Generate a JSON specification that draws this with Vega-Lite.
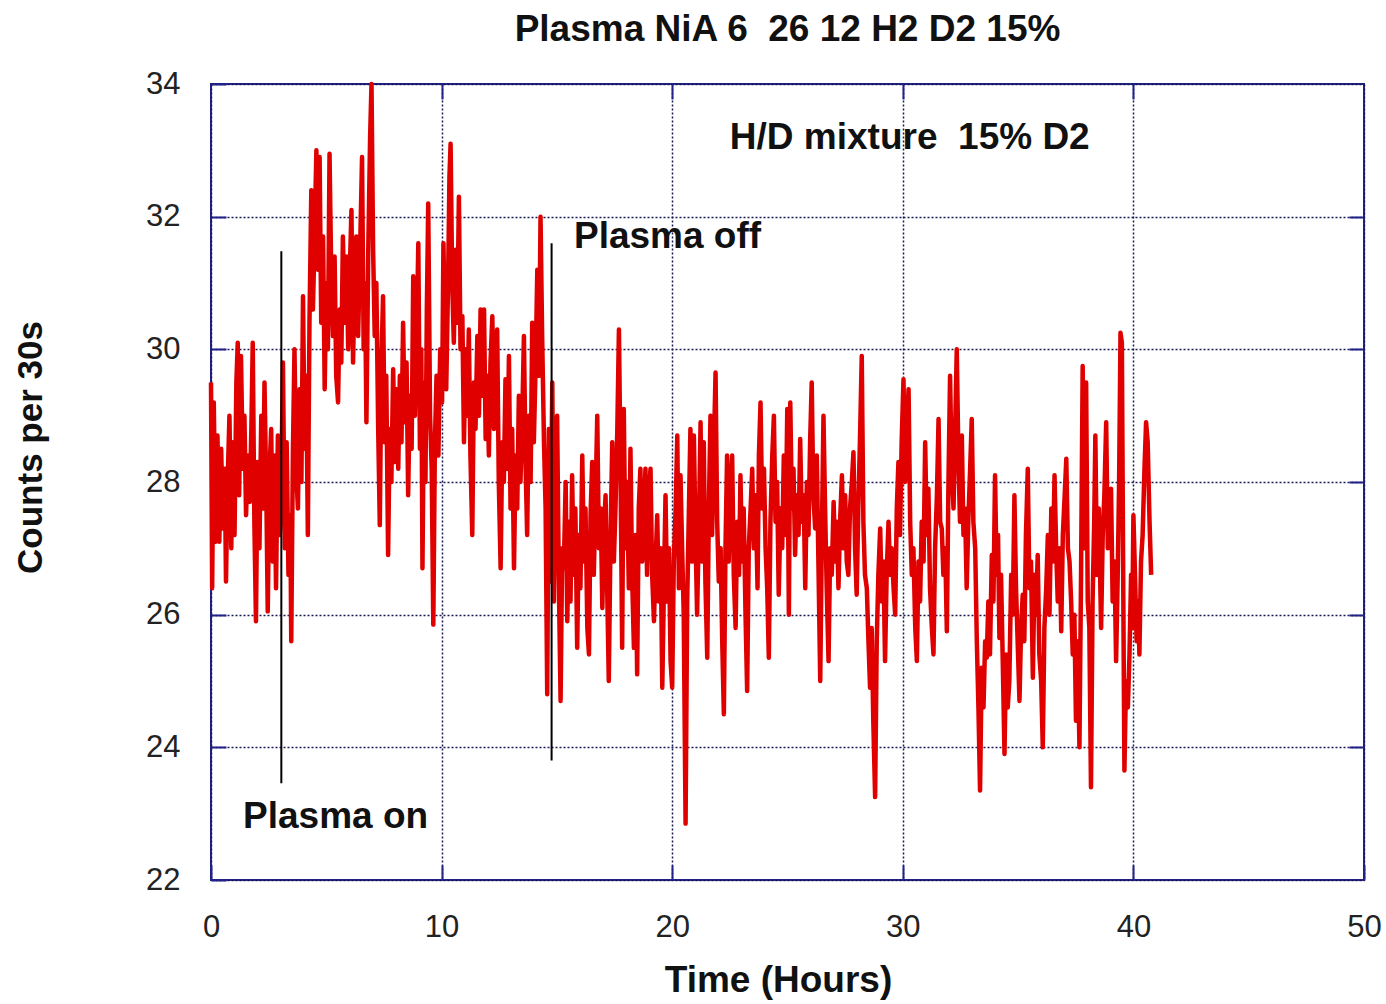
{
"$schema": "https://vega.github.io/schema/vega-lite/v6.json",
"width": 1153, "height": 796,
"autosize": {"type": "none"},
"padding": {"left": 211, "top": 84, "right": 22, "bottom": 124},
"background": "white",
"title": {"text": "Plasma NiA 6 \u00a026 12 H2 D2 15%", "font": "Liberation Sans", "fontWeight": "bold", "fontSize": 37, "color": "#111111", "anchor": "middle", "offset": 19},
"config": {
  "view": {"stroke": "#22228a", "strokeWidth": 2},
  "axis": {"labelFont": "Liberation Sans", "labelFontSize": 31, "labelColor": "#222222", "labelFlush": false, "labelOverlap": false, "titleFont": "Liberation Sans", "titleFontWeight": "bold", "titleColor": "#111111", "gridColor": "#1a1a55", "gridDash": [2, 2], "gridWidth": 1.5, "gridOpacity": 1, "domain": false, "tickColor": "#22228a", "tickWidth": 2, "tickSize": -15}
},
"resolve": {"axis": {"x": "independent", "y": "independent"}},
"datasets": {
  "series": [
{"t":0.00,"c":29.5},{"t":0.05,"c":26.4},{"t":0.12,"c":29.2},{"t":0.20,"c":27.1},{"t":0.28,"c":28.7},{"t":0.36,"c":27.1},{"t":0.44,"c":28.5},{"t":0.52,"c":27.3},{"t":0.60,"c":28.2},{"t":0.65,"c":26.5},
{"t":0.72,"c":28.0},{"t":0.80,"c":29.0},{"t":0.88,"c":27.0},{"t":0.94,"c":28.6},{"t":1.02,"c":27.2},{"t":1.10,"c":29.5},{"t":1.16,"c":30.1},{"t":1.22,"c":27.8},{"t":1.30,"c":29.9},{"t":1.38,"c":28.2},
{"t":1.45,"c":29.0},{"t":1.52,"c":27.5},{"t":1.60,"c":28.4},{"t":1.68,"c":27.7},{"t":1.75,"c":28.8},{"t":1.81,"c":30.1},{"t":1.88,"c":27.4},{"t":1.95,"c":25.9},{"t":2.02,"c":28.3},{"t":2.10,"c":27.0},
{"t":2.18,"c":29.0},{"t":2.25,"c":27.6},{"t":2.32,"c":29.5},{"t":2.40,"c":27.8},{"t":2.46,"c":26.05},{"t":2.54,"c":28.2},{"t":2.61,"c":28.8},{"t":2.68,"c":26.8},{"t":2.75,"c":28.4},{"t":2.82,"c":26.4},
{"t":2.90,"c":28.7},{"t":2.98,"c":27.2},{"t":3.05,"c":28.0},{"t":3.12,"c":29.8},{"t":3.20,"c":27.0},{"t":3.28,"c":28.6},{"t":3.36,"c":26.6},{"t":3.44,"c":27.5},{"t":3.48,"c":25.6},{"t":3.55,"c":28.4},
{"t":3.62,"c":30.0},{"t":3.70,"c":28.1},{"t":3.77,"c":27.6},{"t":3.84,"c":29.4},{"t":3.92,"c":28.0},{"t":3.99,"c":30.8},{"t":4.06,"c":28.5},{"t":4.13,"c":29.6},{"t":4.20,"c":27.2},{"t":4.27,"c":30.4},
{"t":4.35,"c":32.4},{"t":4.42,"c":30.6},{"t":4.50,"c":31.8},{"t":4.57,"c":33.0},{"t":4.64,"c":31.2},{"t":4.71,"c":32.9},{"t":4.78,"c":30.4},{"t":4.86,"c":31.7},{"t":4.93,"c":29.4},{"t":5.00,"c":31.0},
{"t":5.07,"c":30.0},{"t":5.14,"c":32.95},{"t":5.22,"c":31.0},{"t":5.29,"c":30.2},{"t":5.36,"c":31.4},{"t":5.43,"c":29.6},{"t":5.51,"c":29.2},{"t":5.58,"c":30.6},{"t":5.65,"c":29.8},{"t":5.72,"c":31.7},
{"t":5.80,"c":30.4},{"t":5.88,"c":31.4},{"t":5.95,"c":30.0},{"t":6.02,"c":31.2},{"t":6.09,"c":32.1},{"t":6.16,"c":29.8},{"t":6.23,"c":31.0},{"t":6.30,"c":31.7},{"t":6.38,"c":30.2},{"t":6.46,"c":31.4},
{"t":6.55,"c":32.9},{"t":6.62,"c":30.0},{"t":6.68,"c":31.0},{"t":6.74,"c":28.9},{"t":6.82,"c":31.5},{"t":6.90,"c":33.2},{"t":6.96,"c":34.0},{"t":7.03,"c":31.5},{"t":7.10,"c":30.2},{"t":7.17,"c":31.0},
{"t":7.25,"c":28.8},{"t":7.32,"c":27.35},{"t":7.39,"c":29.8},{"t":7.46,"c":30.8},{"t":7.53,"c":28.6},{"t":7.60,"c":29.6},{"t":7.68,"c":26.9},{"t":7.75,"c":28.8},{"t":7.82,"c":28.0},{"t":7.90,"c":29.7},
{"t":7.97,"c":28.3},{"t":8.05,"c":29.4},{"t":8.12,"c":28.2},{"t":8.19,"c":29.6},{"t":8.26,"c":28.6},{"t":8.33,"c":30.4},{"t":8.40,"c":28.9},{"t":8.48,"c":29.8},{"t":8.55,"c":27.8},{"t":8.62,"c":29.3},
{"t":8.70,"c":28.5},{"t":8.77,"c":31.1},{"t":8.84,"c":29.0},{"t":8.92,"c":30.2},{"t":8.99,"c":31.6},{"t":9.06,"c":28.5},{"t":9.12,"c":30.0},{"t":9.17,"c":26.7},{"t":9.24,"c":29.5},{"t":9.30,"c":28.0},
{"t":9.36,"c":30.6},{"t":9.42,"c":32.2},{"t":9.50,"c":29.0},{"t":9.57,"c":28.2},{"t":9.64,"c":25.85},{"t":9.71,"c":28.6},{"t":9.78,"c":29.6},{"t":9.86,"c":28.4},{"t":9.94,"c":30.0},{"t":10.02,"c":29.2},
{"t":10.08,"c":31.6},{"t":10.14,"c":30.2},{"t":10.20,"c":29.4},{"t":10.28,"c":31.0},{"t":10.34,"c":32.6},{"t":10.39,"c":33.1},{"t":10.46,"c":31.0},{"t":10.53,"c":30.1},{"t":10.60,"c":31.5},{"t":10.68,"c":30.4},
{"t":10.75,"c":32.3},{"t":10.82,"c":30.0},{"t":10.90,"c":30.5},{"t":10.97,"c":28.6},{"t":11.04,"c":30.0},{"t":11.11,"c":29.0},{"t":11.18,"c":30.3},{"t":11.25,"c":28.4},{"t":11.33,"c":27.2},{"t":11.40,"c":29.5},
{"t":11.47,"c":28.8},{"t":11.55,"c":30.2},{"t":11.62,"c":29.0},{"t":11.69,"c":30.6},{"t":11.76,"c":29.3},{"t":11.84,"c":30.6},{"t":11.91,"c":28.65},{"t":11.98,"c":29.6},{"t":12.05,"c":28.4},{"t":12.12,"c":29.8},
{"t":12.20,"c":30.5},{"t":12.27,"c":28.8},{"t":12.34,"c":29.9},{"t":12.41,"c":30.3},{"t":12.48,"c":28.0},{"t":12.56,"c":26.7},{"t":12.63,"c":28.6},{"t":12.70,"c":28.0},{"t":12.77,"c":29.55},{"t":12.85,"c":28.2},
{"t":12.92,"c":29.9},{"t":12.99,"c":27.6},{"t":13.06,"c":28.8},{"t":13.14,"c":26.7},{"t":13.21,"c":28.4},{"t":13.28,"c":27.6},{"t":13.35,"c":29.3},{"t":13.42,"c":28.0},{"t":13.50,"c":29.0},{"t":13.57,"c":30.2},
{"t":13.64,"c":28.3},{"t":13.71,"c":27.2},{"t":13.78,"c":29.0},{"t":13.86,"c":28.0},{"t":13.93,"c":30.4},{"t":14.00,"c":28.6},{"t":14.08,"c":29.8},{"t":14.15,"c":31.2},{"t":14.22,"c":29.6},{"t":14.29,"c":32.0},
{"t":14.36,"c":30.2},{"t":14.44,"c":28.6},{"t":14.51,"c":27.6},{"t":14.58,"c":24.8},{"t":14.65,"c":28.8},{"t":14.72,"c":26.5},{"t":14.80,"c":29.5},{"t":14.87,"c":26.2},{"t":14.94,"c":28.6},{"t":15.01,"c":29.0},
{"t":15.08,"c":26.6},{"t":15.16,"c":24.7},{"t":15.23,"c":27.0},{"t":15.30,"c":26.7},{"t":15.38,"c":28.0},{"t":15.45,"c":25.9},{"t":15.52,"c":27.4},{"t":15.59,"c":26.2},{"t":15.66,"c":28.1},{"t":15.73,"c":26.6},
{"t":15.80,"c":27.6},{"t":15.88,"c":25.5},{"t":15.95,"c":27.2},{"t":16.02,"c":26.4},{"t":16.10,"c":28.4},{"t":16.17,"c":26.8},{"t":16.24,"c":27.6},{"t":16.32,"c":25.8},{"t":16.39,"c":25.4},{"t":16.46,"c":27.5},
{"t":16.53,"c":28.3},{"t":16.60,"c":26.6},{"t":16.68,"c":27.8},{"t":16.75,"c":29.0},{"t":16.82,"c":27.0},{"t":16.90,"c":27.6},{"t":16.97,"c":26.1},{"t":17.04,"c":27.3},{"t":17.11,"c":27.8},{"t":17.18,"c":26.4},
{"t":17.25,"c":25.0},{"t":17.32,"c":27.0},{"t":17.40,"c":28.6},{"t":17.47,"c":26.8},{"t":17.54,"c":27.6},{"t":17.62,"c":28.8},{"t":17.69,"c":30.3},{"t":17.76,"c":28.2},{"t":17.83,"c":25.5},{"t":17.90,"c":29.1},
{"t":17.97,"c":27.0},{"t":18.04,"c":28.0},{"t":18.12,"c":26.4},{"t":18.19,"c":28.5},{"t":18.26,"c":26.6},{"t":18.34,"c":25.5},{"t":18.41,"c":27.2},{"t":18.48,"c":25.1},{"t":18.55,"c":27.6},{"t":18.62,"c":28.2},
{"t":18.70,"c":26.8},{"t":18.77,"c":27.5},{"t":18.84,"c":28.2},{"t":18.91,"c":26.6},{"t":18.98,"c":27.8},{"t":19.06,"c":28.2},{"t":19.13,"c":26.6},{"t":19.21,"c":25.9},{"t":19.28,"c":26.8},{"t":19.35,"c":27.5},
{"t":19.42,"c":26.2},{"t":19.50,"c":27.0},{"t":19.57,"c":24.9},{"t":19.64,"c":26.4},{"t":19.71,"c":27.8},{"t":19.78,"c":26.2},{"t":19.86,"c":27.0},{"t":19.93,"c":25.3},{"t":20.00,"c":24.9},{"t":20.07,"c":26.8},
{"t":20.15,"c":27.6},{"t":20.22,"c":28.7},{"t":20.29,"c":26.4},{"t":20.36,"c":28.1},{"t":20.43,"c":27.0},{"t":20.50,"c":26.0},{"t":20.58,"c":22.85},{"t":20.65,"c":26.2},{"t":20.72,"c":27.5},{"t":20.79,"c":28.8},
{"t":20.86,"c":26.8},{"t":20.94,"c":28.7},{"t":21.01,"c":27.2},{"t":21.08,"c":26.0},{"t":21.16,"c":27.4},{"t":21.23,"c":28.9},{"t":21.30,"c":26.8},{"t":21.37,"c":28.6},{"t":21.44,"c":26.5},{"t":21.52,"c":25.35},
{"t":21.59,"c":27.6},{"t":21.66,"c":29.0},{"t":21.73,"c":27.2},{"t":21.80,"c":28.4},{"t":21.88,"c":29.65},{"t":21.95,"c":27.4},{"t":22.02,"c":26.5},{"t":22.10,"c":27.0},{"t":22.17,"c":25.6},{"t":22.24,"c":24.5},
{"t":22.31,"c":27.0},{"t":22.38,"c":28.4},{"t":22.45,"c":26.8},{"t":22.52,"c":27.8},{"t":22.60,"c":28.4},{"t":22.67,"c":26.6},{"t":22.75,"c":25.8},{"t":22.82,"c":27.4},{"t":22.90,"c":26.6},{"t":22.96,"c":28.1},
{"t":23.03,"c":26.8},{"t":23.10,"c":27.6},{"t":23.18,"c":26.0},{"t":23.25,"c":24.85},{"t":23.32,"c":27.0},{"t":23.40,"c":27.6},{"t":23.47,"c":28.2},{"t":23.54,"c":27.0},{"t":23.62,"c":27.8},{"t":23.70,"c":26.4},
{"t":23.76,"c":28.4},{"t":23.83,"c":29.2},{"t":23.90,"c":27.6},{"t":23.98,"c":28.2},{"t":24.05,"c":27.0},{"t":24.12,"c":26.4},{"t":24.19,"c":25.35},{"t":24.26,"c":27.4},{"t":24.34,"c":28.4},{"t":24.41,"c":29.0},
{"t":24.48,"c":27.4},{"t":24.55,"c":28.0},{"t":24.62,"c":26.3},{"t":24.70,"c":27.6},{"t":24.77,"c":27.0},{"t":24.84,"c":28.4},{"t":24.92,"c":27.2},{"t":24.99,"c":29.1},{"t":25.06,"c":26.0},{"t":25.12,"c":29.2},
{"t":25.19,"c":27.6},{"t":25.26,"c":28.2},{"t":25.33,"c":26.9},{"t":25.40,"c":27.8},{"t":25.48,"c":27.2},{"t":25.55,"c":28.65},{"t":25.62,"c":27.4},{"t":25.70,"c":27.8},{"t":25.77,"c":26.4},{"t":25.84,"c":28.0},
{"t":25.91,"c":27.2},{"t":25.98,"c":28.6},{"t":26.05,"c":29.5},{"t":26.12,"c":27.8},{"t":26.20,"c":27.3},{"t":26.27,"c":28.4},{"t":26.34,"c":26.8},{"t":26.42,"c":25.0},{"t":26.49,"c":27.2},{"t":26.56,"c":29.0},
{"t":26.63,"c":27.6},{"t":26.70,"c":26.4},{"t":26.78,"c":25.3},{"t":26.85,"c":27.0},{"t":26.92,"c":26.6},{"t":27.00,"c":27.7},{"t":27.07,"c":26.8},{"t":27.14,"c":27.4},{"t":27.21,"c":26.4},{"t":27.28,"c":27.4},
{"t":27.36,"c":28.1},{"t":27.43,"c":27.0},{"t":27.50,"c":27.8},{"t":27.57,"c":26.8},{"t":27.64,"c":26.6},{"t":27.71,"c":27.6},{"t":27.79,"c":28.0},{"t":27.86,"c":28.45},{"t":27.93,"c":27.0},{"t":28.00,"c":26.3},
{"t":28.07,"c":27.6},{"t":28.14,"c":28.6},{"t":28.22,"c":29.9},{"t":28.29,"c":27.4},{"t":28.36,"c":26.6},{"t":28.44,"c":26.4},{"t":28.51,"c":25.6},{"t":28.58,"c":24.9},{"t":28.65,"c":25.8},{"t":28.72,"c":24.4},
{"t":28.80,"c":23.25},{"t":28.87,"c":25.6},{"t":28.94,"c":26.6},{"t":29.02,"c":27.3},{"t":29.09,"c":26.2},{"t":29.16,"c":26.8},{"t":29.23,"c":25.3},{"t":29.30,"c":26.6},{"t":29.38,"c":27.4},{"t":29.45,"c":26.6},
{"t":29.52,"c":27.0},{"t":29.60,"c":26.4},{"t":29.67,"c":26.0},{"t":29.74,"c":27.6},{"t":29.81,"c":28.3},{"t":29.88,"c":27.2},{"t":29.95,"c":28.6},{"t":30.03,"c":29.55},{"t":30.10,"c":28.0},{"t":30.18,"c":28.8},
{"t":30.25,"c":29.4},{"t":30.32,"c":27.4},{"t":30.39,"c":26.6},{"t":30.46,"c":27.0},{"t":30.54,"c":25.8},{"t":30.61,"c":25.3},{"t":30.68,"c":26.8},{"t":30.75,"c":26.2},{"t":30.82,"c":27.4},{"t":30.90,"c":26.8},
{"t":30.97,"c":28.6},{"t":31.04,"c":27.2},{"t":31.11,"c":27.9},{"t":31.18,"c":26.4},{"t":31.26,"c":25.8},{"t":31.33,"c":25.4},{"t":31.40,"c":27.0},{"t":31.48,"c":27.8},{"t":31.55,"c":28.95},{"t":31.62,"c":27.4},
{"t":31.69,"c":27.3},{"t":31.76,"c":26.6},{"t":31.84,"c":27.0},{"t":31.91,"c":25.75},{"t":31.98,"c":28.0},{"t":32.05,"c":29.6},{"t":32.12,"c":28.2},{"t":32.20,"c":27.6},{"t":32.27,"c":28.8},{"t":32.34,"c":30.0},
{"t":32.41,"c":28.4},{"t":32.48,"c":27.4},{"t":32.56,"c":28.7},{"t":32.63,"c":27.2},{"t":32.70,"c":27.6},{"t":32.77,"c":26.4},{"t":32.84,"c":27.4},{"t":32.92,"c":28.2},{"t":32.99,"c":28.95},{"t":33.06,"c":27.4},
{"t":33.14,"c":27.0},{"t":33.21,"c":25.6},{"t":33.28,"c":24.6},{"t":33.35,"c":23.35},{"t":33.42,"c":25.2},{"t":33.50,"c":24.6},{"t":33.57,"c":25.6},{"t":33.64,"c":25.35},{"t":33.71,"c":26.2},{"t":33.78,"c":25.4},
{"t":33.86,"c":26.9},{"t":33.93,"c":26.2},{"t":34.00,"c":28.1},{"t":34.07,"c":26.6},{"t":34.13,"c":27.2},{"t":34.19,"c":25.65},{"t":34.26,"c":26.6},{"t":34.34,"c":25.2},{"t":34.41,"c":23.9},{"t":34.48,"c":25.4},
{"t":34.55,"c":24.6},{"t":34.62,"c":25.0},{"t":34.70,"c":26.6},{"t":34.77,"c":26.0},{"t":34.84,"c":27.8},{"t":34.91,"c":26.4},{"t":34.98,"c":25.6},{"t":35.06,"c":24.7},{"t":35.13,"c":25.8},{"t":35.20,"c":26.3},
{"t":35.27,"c":25.6},{"t":35.34,"c":27.2},{"t":35.42,"c":28.2},{"t":35.49,"c":26.4},{"t":35.56,"c":26.8},{"t":35.64,"c":25.05},{"t":35.71,"c":26.6},{"t":35.78,"c":26.0},{"t":35.85,"c":26.9},{"t":35.92,"c":25.4},
{"t":36.00,"c":25.0},{"t":36.07,"c":24.0},{"t":36.14,"c":25.8},{"t":36.22,"c":26.4},{"t":36.29,"c":27.2},{"t":36.36,"c":26.0},{"t":36.44,"c":27.6},{"t":36.51,"c":26.8},{"t":36.58,"c":28.1},{"t":36.65,"c":27.0},
{"t":36.72,"c":26.2},{"t":36.80,"c":27.0},{"t":36.87,"c":25.75},{"t":36.94,"c":27.2},{"t":37.02,"c":27.8},{"t":37.09,"c":28.35},{"t":37.16,"c":27.0},{"t":37.23,"c":26.8},{"t":37.30,"c":26.2},{"t":37.37,"c":25.4},
{"t":37.44,"c":26.0},{"t":37.51,"c":24.4},{"t":37.58,"c":25.6},{"t":37.66,"c":24.0},{"t":37.73,"c":26.6},{"t":37.80,"c":29.75},{"t":37.87,"c":27.0},{"t":37.95,"c":29.5},{"t":38.02,"c":26.2},{"t":38.09,"c":25.8},
{"t":38.16,"c":23.4},{"t":38.23,"c":26.2},{"t":38.30,"c":27.4},{"t":38.35,"c":28.7},{"t":38.42,"c":26.6},{"t":38.50,"c":27.6},{"t":38.60,"c":25.8},{"t":38.67,"c":27.2},{"t":38.74,"c":27.8},{"t":38.82,"c":28.9},
{"t":38.89,"c":27.0},{"t":38.96,"c":27.6},{"t":39.03,"c":27.9},{"t":39.10,"c":26.2},{"t":39.18,"c":26.8},{"t":39.25,"c":25.3},{"t":39.32,"c":26.6},{"t":39.38,"c":28.0},{"t":39.44,"c":30.25},{"t":39.50,"c":30.1},
{"t":39.56,"c":26.4},{"t":39.61,"c":23.65},{"t":39.68,"c":25.0},{"t":39.76,"c":24.6},{"t":39.83,"c":25.4},{"t":39.90,"c":26.6},{"t":39.95,"c":25.8},{"t":40.00,"c":27.5},{"t":40.07,"c":26.6},{"t":40.14,"c":25.6},
{"t":40.20,"c":26.2},{"t":40.26,"c":25.4},{"t":40.33,"c":26.8},{"t":40.40,"c":27.2},{"t":40.48,"c":28.2},{"t":40.55,"c":28.9},{"t":40.62,"c":28.6},{"t":40.70,"c":27.4},{"t":40.77,"c":26.6}
  ],
  "markers": [
    {"t": 3.05, "lo": 23.46, "hi": 31.48},
    {"t": 14.77, "lo": 23.8, "hi": 31.6}
  ],
  "notes": [
    {"t": 22.5, "c": 33.19, "label": "H/D mixture \u00a015% D2"},
    {"t": 15.74, "c": 31.69, "label": "Plasma off"},
    {"t": 1.39, "c": 22.95, "label": "Plasma on"}
  ]
},
"layer": [
  {
    "data": {"name": "series"},
    "mark": {"type": "line", "color": "#e00000", "strokeWidth": 4.5, "strokeJoin": "round"},
    "encoding": {
      "x": {"field": "t", "type": "quantitative", "scale": {"domain": [0, 50], "nice": false},
            "axis": {"orient": "bottom", "values": [0, 10, 20, 30, 40, 50], "format": "d", "grid": true, "labelPadding": 47, "title": "Time (Hours)", "titleFontSize": 37, "titleX": 567, "titleY": 100, "titleBaseline": "middle", "titleAlign": "center"}},
      "y": {"field": "c", "type": "quantitative", "scale": {"domain": [22, 34], "nice": false, "zero": false},
            "axis": {"orient": "left", "values": [22, 24, 26, 28, 30, 32, 34], "format": "d", "grid": true, "labelPadding": 46, "title": "Counts per 30s", "titleFontSize": 35, "titleX": -181, "titleY": 363, "titleBaseline": "middle", "titleAlign": "center", "titleAngle": -90}}
    }
  },
  {
    "data": {"name": "markers"},
    "mark": {"type": "rule", "color": "#000000", "strokeWidth": 2},
    "encoding": {
      "x": {"field": "t", "type": "quantitative", "axis": {"orient": "top", "values": [10, 20, 30, 40], "labels": false, "grid": false, "title": null}},
      "y": {"field": "lo", "type": "quantitative", "axis": null},
      "y2": {"field": "hi"}
    }
  },
  {
    "data": {"name": "notes"},
    "mark": {"type": "text", "align": "left", "baseline": "middle", "font": "Liberation Sans", "fontWeight": "bold", "fontSize": 37, "color": "#111111"},
    "encoding": {
      "x": {"field": "t", "type": "quantitative", "axis": null},
      "y": {"field": "c", "type": "quantitative", "axis": {"orient": "right", "values": [24, 26, 28, 30, 32], "labels": false, "grid": false, "title": null}},
      "text": {"field": "label"}
    }
  }
]
}
